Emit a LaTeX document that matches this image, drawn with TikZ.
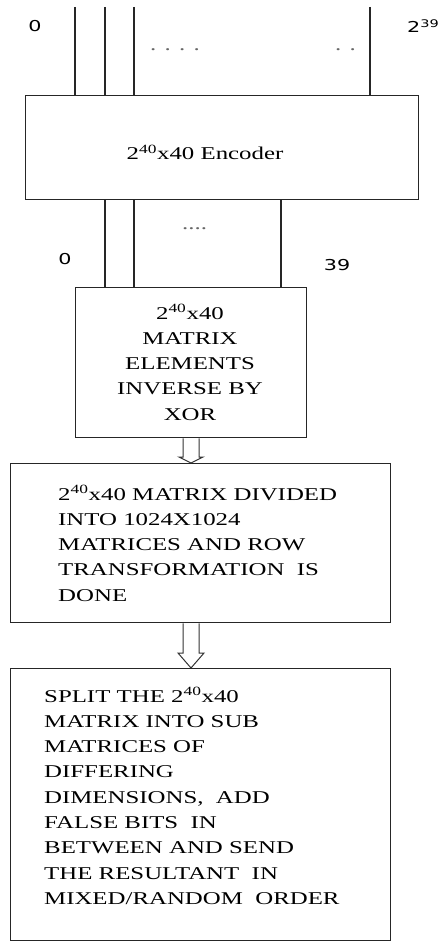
\documentclass[tikz,border=0pt]{standalone}
\usepackage{fontspec}
\usepackage{graphicx}
\setmainfont{Liberation Serif}
\newfontfamily\labfont{DejaVu Sans}
\usetikzlibrary{calc}
% text in this chart is set wide
\newcommand{\widetxt}[1]{\scalebox{1.38}[1]{#1}}
\newcommand{\sqr}{2\textsuperscript{40}x40}
\tikzset{
  blk/.style={draw=black!85, line width=1.4pt, inner sep=0pt, anchor=north west},
  wire/.style={draw=black!85, line width=1.6pt},
  hollow/.style={draw=black!80, line width=1pt, line join=miter},
  txt/.style={inner sep=0pt, font=\fontsize{18}{25.3}\selectfont},
  num/.style={inner sep=0pt, font=\labfont\fontsize{15}{18}\selectfont},
  dots/.style={inner sep=0pt, text=black!60, font=\fontsize{18}{25.3}\selectfont}
}
\begin{document}
\begin{tikzpicture}[x=1pt,y=-1pt]
\useasboundingbox (0,0) rectangle (438,941);

% blocks
\node[blk, minimum width=393pt, minimum height=104pt] (enc) at (25,95) {};
\node[blk, minimum width=231pt, minimum height=150pt] (mat) at (75,287) {};
\node[blk, minimum width=380pt, minimum height=159pt] (div) at (10,463) {};
\node[blk, minimum width=380pt, minimum height=272pt] (split) at (10,668) {};

% block texts
\node[txt, anchor=base] (encT) at (205,160) {\widetxt{\sqr{} Encoder}};
\node[txt, anchor=base] (matT) at (190,319) {\widetxt{\begin{tabular}[t]{@{}c@{}}\sqr\\MATRIX\\ELEMENTS\\INVERSE BY\\XOR\end{tabular}}};
\node[txt, anchor=base west] (divT) at (58,500) {\widetxt{\begin{tabular}[t]{@{}l@{}}\sqr{} MATRIX DIVIDED\\INTO 1024X1024\\MATRICES AND ROW\\TRANSFORMATION\ \ IS\\DONE\end{tabular}}};
\node[txt, anchor=base west] (splitT) at (44,702) {\widetxt{\begin{tabular}[t]{@{}l@{}}SPLIT THE \sqr\\MATRIX INTO SUB\\MATRICES OF\\DIFFERING\\DIMENSIONS,\ \ ADD\\FALSE BITS\ \ IN\\BETWEEN AND SEND\\THE RESULTANT\ \ IN\\MIXED/RANDOM\ \ ORDER\end{tabular}}};

% input lines into the encoder
\foreach \n/\x in {i0/75, i1/105, i2/134, i3/370}{
  \coordinate (\n) at (\x,7);
  \draw[wire] (\n) -- (\n |- enc.north);
}
\node[dots, anchor=west] (dA) at (150,50) {\widetxt{. . . .}};
\node[dots, anchor=west] (dB) at (335,50) {\widetxt{. .}};
\node[num] (n0) at (35,26) {\widetxt{0}};
\node[num, anchor=west] (n239) at (407,26) {\widetxt{2\textsuperscript{39}}};

% output lines from the encoder
\foreach \n/\x in {o0/105, o1/134, o2/281}{
  \coordinate (\n) at (\x,0);
  \draw[wire] (\n |- enc.south) -- (\n |- mat.north);
}
\node[dots, anchor=west] (dC) at (182,229) {\widetxt{....}};
\node[num] (m0) at (65,259) {\widetxt{0}};
\node[num] (m39) at (337,265) {\widetxt{39}};

% hollow arrows between the lower blocks
\coordinate (a1) at (191,0);
\draw[hollow] ($(a1 |- mat.south)+(-8,0)$) -- ($(a1 |- div.north)+(-8,-6)$)
  -- ($(a1 |- div.north)+(-12,-6)$) -- (a1 |- div.north)
  -- ($(a1 |- div.north)+(12,-6)$) -- ($(a1 |- div.north)+(8,-6)$)
  -- ($(a1 |- mat.south)+(8,0)$);
\draw[hollow] ($(a1 |- div.south)+(-8,0)$) -- ($(a1 |- split.north)+(-8,-15)$)
  -- ($(a1 |- split.north)+(-13,-15)$) -- (a1 |- split.north)
  -- ($(a1 |- split.north)+(13,-15)$) -- ($(a1 |- split.north)+(8,-15)$)
  -- ($(a1 |- div.south)+(8,0)$);
\end{tikzpicture}
\end{document}
